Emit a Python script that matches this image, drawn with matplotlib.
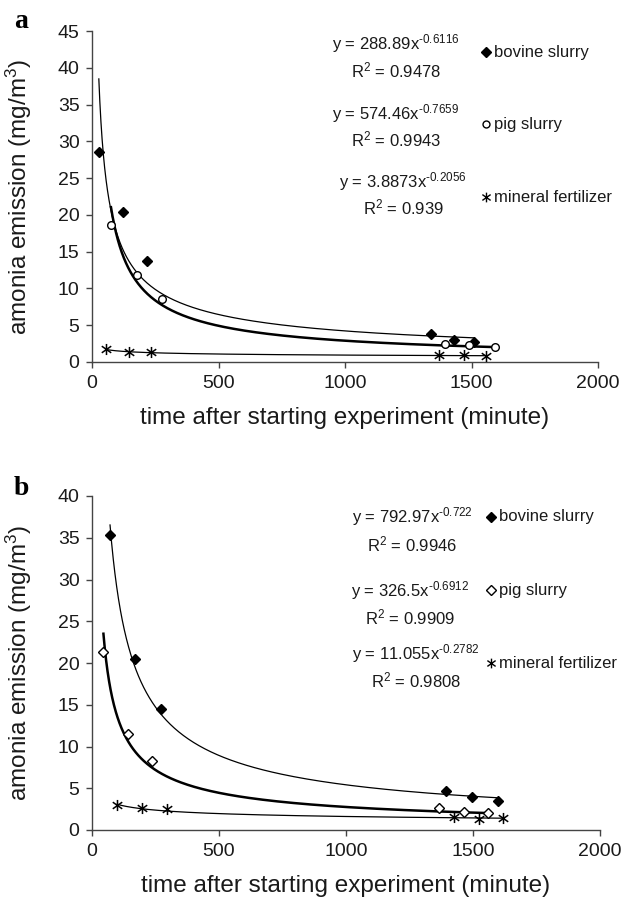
import numpy as np
import matplotlib
matplotlib.use('Agg')
import matplotlib.pyplot as plt
from matplotlib.path import Path

plt.rcParams['font.family'] = ['Liberation Sans', 'DejaVu Sans']
plt.rcParams['mathtext.default'] = 'regular'

# ---- data (time in minutes, emission in mg/m3) ----
# panel a
bov_a_x = [27, 121, 219, 1340, 1432, 1510]
bov_a_y = [28.5, 20.4, 13.7, 3.8, 3.0, 2.7]
pig_a_x = [75, 177, 275, 1395, 1491, 1592]
pig_a_y = [18.6, 11.8, 8.6, 2.4, 2.3, 2.0]
min_a_x = [55, 146, 233, 1371, 1470, 1557]
min_a_y = [1.7, 1.35, 1.35, 1.0, 1.0, 0.8]

# panel b
bov_b_x = [71, 170, 270, 1394, 1495, 1597]
bov_b_y = [35.3, 20.5, 14.5, 4.7, 4.0, 3.5]
pig_b_x = [45, 142, 238, 1368, 1464, 1560]
pig_b_y = [21.3, 11.5, 8.3, 2.6, 2.2, 2.0]
min_b_x = [99, 196, 294, 1425, 1523, 1620]
min_b_y = [3.05, 2.65, 2.5, 1.5, 1.35, 1.4]

# power trendlines y = a * x^b, as printed on the chart
fit_a = {'bovine': (288.89, -0.6116, 0.9478),
         'pig': (574.46, -0.7659, 0.9943),
         'mineral': (3.8873, -0.2056, 0.939)}
fit_b = {'bovine': (792.97, -0.722, 0.9946),
         'pig': (326.5, -0.6912, 0.9909),
         'mineral': (11.055, -0.2782, 0.9808)}

W, H = 621, 899
fig = plt.figure(figsize=(W / 100, H / 100), dpi=100)

# Excel style star marker: an X with a vertical bar
star = Path([(0, -1), (0, 1), (-0.85, -0.6), (0.85, 0.6), (-0.85, 0.6), (0.85, -0.6)],
            [Path.MOVETO, Path.LINETO, Path.MOVETO, Path.LINETO, Path.MOVETO, Path.LINETO])

AX_COL = '#444444'
TXT = '#1a1a1a'


def px(x, y):
    return x / W, 1 - y / H


def trend(ax, xs, coef, lw):
    a, b, _ = coef
    xx = np.geomspace(min(xs), max(xs), 300)
    ax.plot(xx, a * xx ** b, color='black', lw=lw, zorder=2)


def style(ax, ymax):
    ax.set_xlim(0, 2000)
    ax.set_ylim(0, ymax)
    ax.set_xticks([0, 500, 1000, 1500, 2000])
    ax.set_yticks(np.arange(0, ymax + 1, 5))
    for s in ['top', 'right']:
        ax.spines[s].set_visible(False)
    for s in ['left', 'bottom']:
        ax.spines[s].set_color(AX_COL)
        ax.spines[s].set_linewidth(1.0)
    ax.tick_params(direction='out', length=4, width=1, color=AX_COL,
                   labelsize=14, labelcolor=TXT, pad=5)
    ax.set_xlabel('time after starting experiment (minute)', fontsize=17.5,
                  color=TXT, labelpad=11)
    ax.set_ylabel('amonia emission (mg/m$^3$)', fontsize=17.5, color=TXT)
    ax.yaxis.set_label_coords(-0.115, 0.5)


def draw_panel(ax, bov, pig, mine, fits, pig_marker, pig_ms):
    trend(ax, bov[0], fits['bovine'], 0.9)
    trend(ax, pig[0], fits['pig'], 1.8)
    trend(ax, mine[0], fits['mineral'], 0.9)
    ax.plot(bov[0], bov[1], ls='none', marker='D', ms=5.5, mfc='black',
            mec='black', zorder=3, clip_on=False)
    ax.plot(pig[0], pig[1], ls='none', marker=pig_marker, ms=pig_ms, mfc='white',
            mec='black', mew=1.0, zorder=3, clip_on=False)
    ax.plot(mine[0], mine[1], ls='none', marker=star, ms=8, mfc='none',
            mec='black', mew=1.1, zorder=3, clip_on=False)


def eq_text(a, b, r2, cx, cy, cy2):
    b = b.replace('-', '\u2010')
    fig.text(*px(cx, cy), 'y = %sx$^{%s}$' % (a, b), fontsize=12,
             ha='center', va='center', color=TXT)
    fig.text(*px(cx, cy2), 'R$^2$ = %s' % r2, fontsize=12,
             ha='center', va='center', color=TXT)


def key(ax, mx, my, marker, ms, mfc, mew, label):
    ax.plot([mx / W], [1 - my / H], transform=fig.transFigure, ls='none',
            marker=marker, ms=ms, mfc=mfc, mec='black', mew=mew, clip_on=False)
    fig.text(*px(mx + 8, my), label, fontsize=12, ha='left', va='center',
             color=TXT)


# ---------------- panel a ----------------
ax1 = fig.add_axes([92 / W, 1 - 362 / H, 506 / W, 331 / H])
style(ax1, 45)
draw_panel(ax1, (bov_a_x, bov_a_y), (pig_a_x, pig_a_y), (min_a_x, min_a_y),
           fit_a, 'o', 5.5)

eq_text('288.89', '-0.6116', '0.9478', 396, 44, 70)
eq_text('574.46', '-0.7659', '0.9943', 396, 114, 139)
eq_text('3.8873', '-0.2056', '0.939', 403, 182, 207)
key(ax1, 486, 52, 'D', 5, 'black', 1, 'bovine slurry')
key(ax1, 486, 124, 'o', 5, 'white', 1, 'pig slurry')
key(ax1, 486, 197, star, 7, 'none', 1, 'mineral fertilizer')

fig.text(*px(14, 22), 'a', fontsize=20, fontweight='bold',
         family='Liberation Serif', ha='left', va='center')

# ---------------- panel b ----------------
ax2 = fig.add_axes([92 / W, 1 - 830 / H, 508 / W, 334 / H])
style(ax2, 40)
draw_panel(ax2, (bov_b_x, bov_b_y), (pig_b_x, pig_b_y), (min_b_x, min_b_y),
           fit_b, 'D', 5.5)

eq_text('792.97', '-0.722', '0.9946', 412, 517, 544)
eq_text('326.5', '-0.6912', '0.9909', 410, 591, 617)
eq_text('11.055', '-0.2782', '0.9808', 416, 654, 680)
key(ax2, 491, 517, 'D', 5, 'black', 1, 'bovine slurry')
key(ax2, 491, 590, 'D', 5, 'white', 1, 'pig slurry')
key(ax2, 491, 663, star, 7, 'none', 1, 'mineral fertilizer')

fig.text(*px(14, 488), 'b', fontsize=20, fontweight='bold',
         family='Liberation Serif', ha='left', va='center')

fig.savefig('out.png', dpi=100)
